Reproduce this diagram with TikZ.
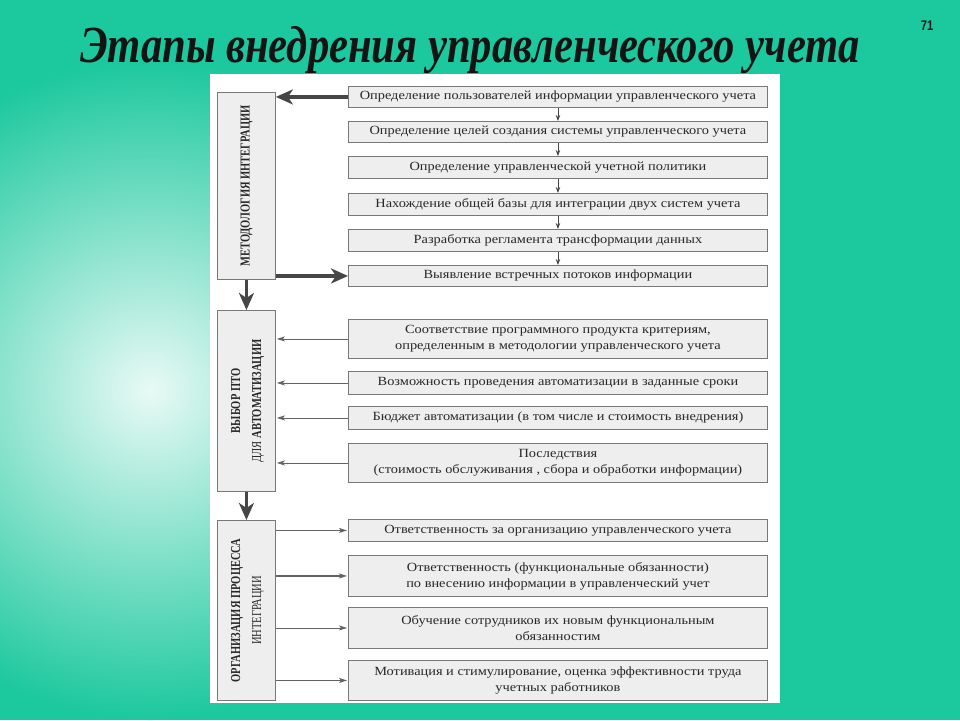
\documentclass[tikz,border=0pt]{standalone}
\usepackage{fontspec}
\usepackage{graphicx}
\setmainfont{Liberation Serif}
\newfontfamily\rowfont{Liberation Serif}[FakeStretch=1.15]
\newfontfamily\titlefont{Liberation Serif}[FakeStretch=0.82]
\newfontfamily\numfont{Liberation Sans}[FakeStretch=0.8]
\usetikzlibrary{arrows.meta}
\definecolor{bgteal}{RGB}{28,200,158}
\definecolor{boxfill}{RGB}{238,238,238}
\definecolor{boxline}{RGB}{120,120,120}
\definecolor{txt}{RGB}{40,40,40}
\definecolor{arrowc}{RGB}{70,70,70}
\tikzset{
 rowbox/.style={draw=boxline, fill=boxfill, line width=0.9pt, anchor=north west, minimum width=419pt, inner sep=0pt, align=center, text=txt, font=\rowfont\fontsize{12.5}{16}\selectfont},
 stagebox/.style={draw=boxline, fill=boxfill, line width=0.9pt, anchor=north west, minimum width=58pt, inner sep=0pt},
 stagetext/.style={rotate=90, text=txt, font=\fontsize{10.5}{16}\selectfont, inner sep=0pt},
 bigarrow/.style={draw=arrowc, line width=3.5pt, -{Stealth[length=17pt,width=15pt,inset=5pt]}},
 smallarrow/.style={draw=arrowc, line width=0.8pt, -{Stealth[length=6pt,width=4.5pt]}},
 thinarrow/.style={draw=arrowc!85, line width=0.8pt, -{Stealth[length=8pt,width=5pt,inset=2pt]}, shorten >=1pt},
}
\begin{document}
\begin{tikzpicture}[x=1pt,y=-1pt]
\useasboundingbox (0,0) rectangle (960,720);
% background
\fill[bgteal] (0,0) rectangle (960,720);
\begin{scope}
\clip (0,0) rectangle (960,720);
\shade[inner color=bgteal!10!white, outer color=bgteal] (150,390) circle (330pt);
\end{scope}
\fill[white] (210,74) rectangle (780,703);
% title
\node[font=\titlefont\bfseries\itshape\fontsize{52}{60}\selectfont, text=black!92, anchor=base] (title) at (470,62) {Этапы внедрения управленческого учета};
\node[font=\numfont\bfseries\fontsize{14}{16}\selectfont, text=black!90] (pg) at (927,26) {71};
% stage boxes
\node[stagebox, minimum height=187pt] (m1) at (217,92) {};
\node[stagebox, minimum height=181pt] (m2) at (217,310) {};
\node[stagebox, minimum height=180pt] (m3) at (217,520) {};
\node[stagetext] (m1t) at (m1.center) {\scalebox{1}[1.3]{\bfseries МЕТОДОЛОГИЯ ИНТЕГРАЦИИ}};
\node[stagetext] (m2t) at (m2.center) {\scalebox{1}[1.3]{\begin{tabular}{@{}c@{}}\bfseries ВЫБОР ПТО\\ДЛЯ \bfseries АВТОМАТИЗАЦИИ\end{tabular}}};
\node[stagetext] (m3t) at (m3.center) {\scalebox{1}[1.3]{\begin{tabular}{@{}c@{}}\bfseries ОРГАНИЗАЦИЯ ПРОЦЕССА\\ИНТЕГРАЦИИ\end{tabular}}};
% rows stage 1
\node[rowbox, minimum height=21pt] (r1) at (348,86) {Определение пользователей информации управленческого учета};
\node[rowbox, minimum height=21pt] (r2) at (348,121) {Определение целей создания системы управленческого учета};
\node[rowbox, minimum height=22pt] (r3) at (348,156) {Определение управленческой учетной политики};
\node[rowbox, minimum height=22pt] (r4) at (348,193) {Нахождение общей базы для интеграции двух систем учета};
\node[rowbox, minimum height=22pt] (r5) at (348,229) {Разработка регламента трансформации данных};
\node[rowbox, minimum height=21pt] (r6) at (348,265) {Выявление встречных потоков информации};
% rows stage 2
\node[rowbox, minimum height=39pt] (p1) at (348,319) {Соответствие программного продукта критериям,\\определенным в методологии управленческого учета};
\node[rowbox, minimum height=23pt] (p2) at (348,371) {Возможность проведения автоматизации в заданные сроки};
\node[rowbox, minimum height=23pt] (p3) at (348,406) {Бюджет автоматизации (в том числе и стоимость внедрения)};
\node[rowbox, minimum height=39pt] (p4) at (348,443) {Последствия\\(стоимость обслуживания , сбора и обработки информации)};
% rows stage 3
\node[rowbox, minimum height=22pt] (q1) at (348,519) {Ответственность за организацию управленческого учета};
\node[rowbox, minimum height=41pt] (q2) at (348,555) {Ответственность (функциональные обязанности)\\по внесению информации в управленческий учет};
\node[rowbox, minimum height=41pt] (q3) at (348,607) {Обучение сотрудников их новым функциональным\\обязанностим};
\node[rowbox, minimum height=40pt] (q4) at (348,660) {Мотивация и стимулирование, оценка эффективности труда\\учетных работников};
% arrows
\draw[bigarrow] (r1.west) -- (m1.east |- r1.west);
\draw[bigarrow] (m1.east |- r6.west) -- (r6.west);
\draw[bigarrow] (m1.south) -- (m2.north);
\draw[bigarrow] (m2.south) -- (m3.north);
\draw[smallarrow] (r1.south) -- (r2.north);
\draw[smallarrow] (r2.south) -- (r3.north);
\draw[smallarrow] (r3.south) -- (r4.north);
\draw[smallarrow] (r4.south) -- (r5.north);
\draw[smallarrow] (r5.south) -- (r6.north);
\draw[thinarrow] (p1.west) -- (m2.east |- p1.west);
\draw[thinarrow] (p2.west) -- (m2.east |- p2.west);
\draw[thinarrow] (p3.west) -- (m2.east |- p3.west);
\draw[thinarrow] (p4.west) -- (m2.east |- p4.west);
\draw[thinarrow, line width=1.3pt] (m3.east |- q1.west) -- (q1.west);
\draw[thinarrow, line width=1.3pt] (m3.east |- q2.west) -- (q2.west);
\draw[thinarrow] (m3.east |- q3.west) -- (q3.west);
\draw[thinarrow] (m3.east |- q4.west) -- (q4.west);
\end{tikzpicture}
\end{document}
